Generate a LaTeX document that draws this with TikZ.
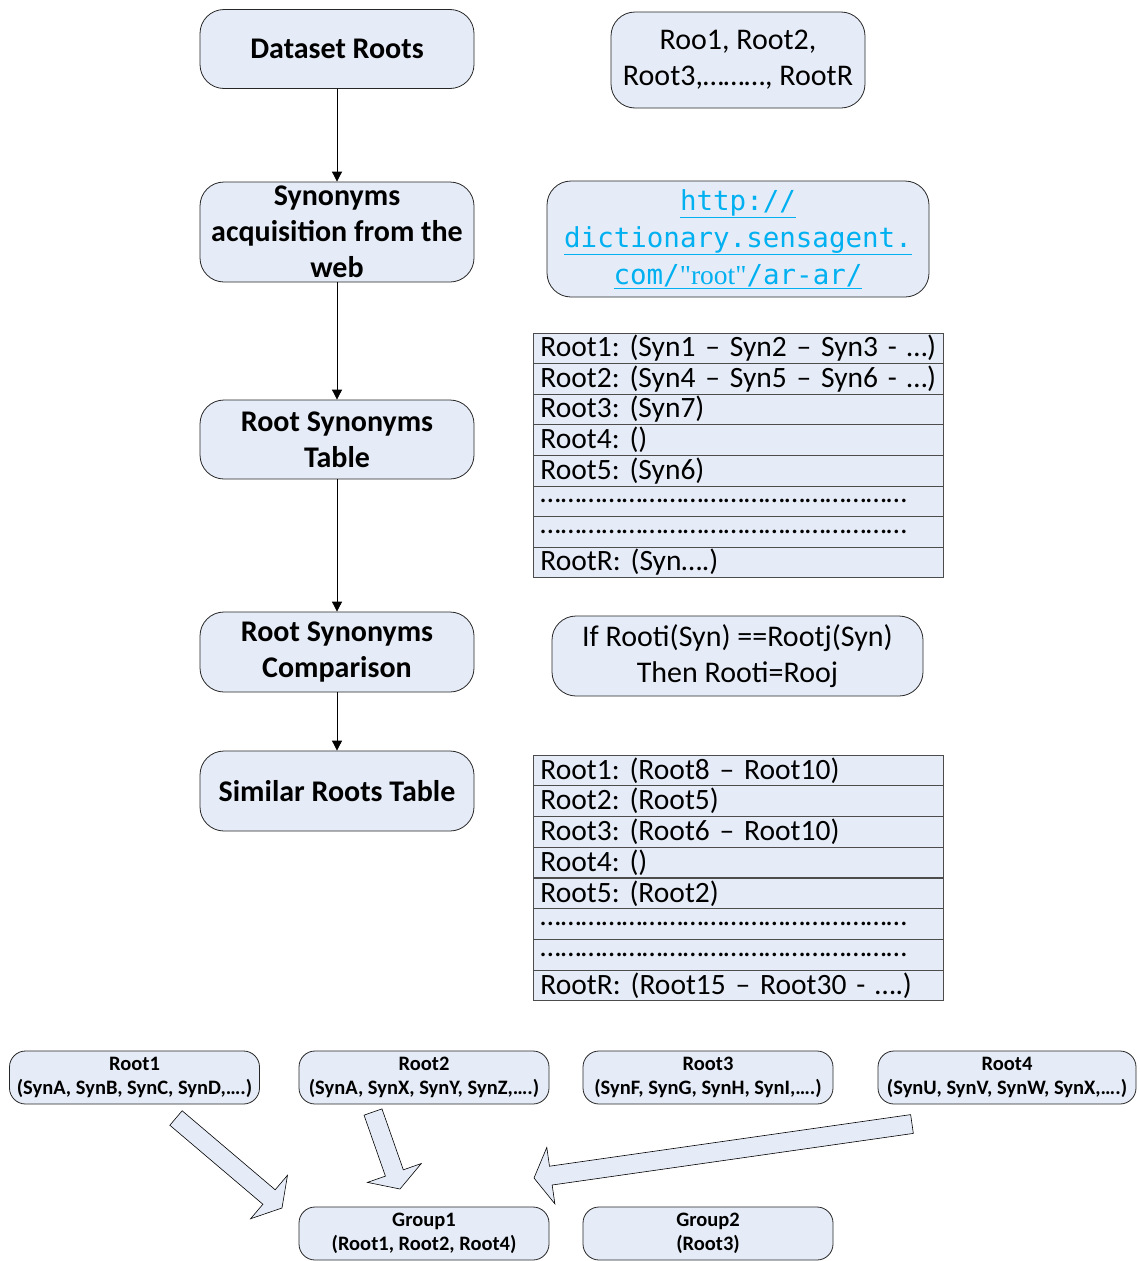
\documentclass[tikz,border=0pt]{standalone}
\usepackage{fontspec}
\setmainfont{Carlito}
\newfontfamily\monofnt{DejaVu Sans Mono}
\newfontfamily\timesfnt{Liberation Serif}
\usetikzlibrary{arrows.meta,calc}
\frenchspacing

\definecolor{boxfill}{RGB}{230,236,247}
\definecolor{linkblue}{RGB}{0,176,240}

\newcommand\dotline{{………}{………}{………}{………}{………}{………}}

\tikzset{
	stepbox/.style={draw=black!85, fill=boxfill, rounded corners=24pt, line width=0.8pt,
		minimum width=274pt, minimum height=79pt, inner sep=0pt, align=center,
		font=\bfseries\fontsize{30}{36}\selectfont},
	notebox/.style={draw=black!85, fill=boxfill, rounded corners=24pt, line width=0.8pt,
		inner sep=0pt, align=center, font=\fontsize{30}{36}\selectfont},
	tabrow/.style={draw=black!70, fill=boxfill, line width=0.9pt, anchor=west,
		minimum height=30.6pt, text width=396pt, inner xsep=7pt, inner ysep=0pt,
		align=left, font=\fontsize{29.5}{30}\selectfont},
	rootbox/.style={draw=black!85, fill=boxfill, rounded corners=16pt, line width=0.8pt,
		minimum width=250pt, minimum height=53pt, inner sep=0pt, align=center,
		font=\bfseries\fontsize{20.5}{24}\selectfont},
	flow/.style={line width=0.8pt, -{Triangle[length=10pt,width=10pt]}},
	fatarrow/.style={draw=black, fill=boxfill, line width=0.6pt, line join=miter}
}

% block arrow from #1 (tail) to #2 (tip)
\newcommand\fatarrow[2]{%
	\coordinate (hb) at ($(#2)!17pt!(#1)$);
	\draw[fatarrow] ($(#1)!9.5pt!-90:(#2)$) -- ($(hb)!9.5pt!-90:(#2)$)
		-- ($(hb)!28.5pt!-90:(#2)$) -- (#2) -- ($(hb)!28.5pt!90:(#2)$)
		-- ($(hb)!9.5pt!90:(#2)$) -- ($(#1)!9.5pt!90:(#2)$) -- cycle;
}

\begin{document}
\begin{tikzpicture}[x=1pt, y=-1pt]
		\useasboundingbox (0,0) rectangle (1140,1261);
		
		% left column
		\node[stepbox] (roots) at (337, 49) {Dataset Roots};
		\node[stepbox, minimum height=100pt] (acq) at (337, 232) {Synonyms\\acquisition from the\\web};
		\node[stepbox] (syntab) at (337, 439.5) {Root Synonyms\\Table};
		\node[stepbox, minimum height=80pt] (cmp) at (337, 652) {Root Synonyms\\Comparison};
		\node[stepbox, minimum height=80pt] (simtab) at (337, 791) {Similar Roots Table};
		
		\draw[flow] (roots) -- (acq);
		\draw[flow] (acq) -- (syntab);
		\draw[flow] (syntab) -- (cmp);
		\draw[flow] (cmp) -- (simtab);
		
		% right column
		\node[notebox, minimum width=254pt, minimum height=96pt] (rootlist) at (738, 60)
			{Roo1, Root2,\\Root3,………, RootR};
		\node[notebox, minimum width=382pt, minimum height=116pt, text=linkblue,
			font=\monofnt\fontsize{27.5}{37}\selectfont] (url) at (738, 239)
			{\underline{http://}\\\underline{dictionary.sensagent.}\\\underline{com/{\timesfnt "root"}/ar-ar/}};
		\node[notebox, minimum width=371pt, minimum height=80pt] (rule) at (737.5, 656)
			{If Rooti(Syn) ==Rootj(Syn)\\Then Rooti=Rooj};
		
		\foreach \txt [count=\i] in {{Root1: (Syn1 – Syn2 – Syn3 - …)}, {Root2: (Syn4 – Syn5 – Syn6 - …)},
			{Root3: (Syn7)}, {Root4: ()}, {Root5: (Syn6)},
			{\dotline}, {\dotline}, {RootR: (Syn….)}}
			\node[tabrow] (syn\i) at (533, {333+30.6*(\i-0.5)}) {\mbox{\txt}};
		
		\foreach \txt [count=\i] in {{Root1: (Root8 – Root10)}, {Root2: (Root5)},
			{Root3: (Root6 – Root10)}, {Root4: ()}, {Root5: (Root2)},
			{\dotline}, {\dotline}, {RootR: (Root15 – Root30 - ….)}}
			\node[tabrow] (sim\i) at (533, {755+30.75*(\i-0.5)}) {\mbox{\txt}};
		
		% groups
		\node[rootbox] (r1) at (134.5, 1077.5) {Root1\\(SynA, SynB, SynC, SynD,….)};
		\node[rootbox] (r2) at (424, 1077.5) {Root2\\(SynA, SynX, SynY, SynZ,….)};
		\node[rootbox] (r3) at (708, 1077.5) {Root3\\(SynF, SynG, SynH, SynI,….)};
		\node[rootbox, minimum width=258pt] (r4) at (1007, 1077.5) {Root4\\(SynU, SynV, SynW, SynX,….)};
		\node[rootbox] (g1) at (424, 1233.5) {Group1\\(Root1, Root2, Root4)};
		\node[rootbox] (g2) at (708, 1233.5) {Group2\\(Root3)};
		
		\coordinate (r1out) at (176, 1118);
		\coordinate (g1in1) at (282, 1208);
		\coordinate (r2out) at (373, 1112);
		\coordinate (g1in2) at (400, 1189);
		\coordinate (r4out) at (912, 1124);
		\coordinate (g1in4) at (534, 1178);
		\fatarrow{r1out}{g1in1}
		\fatarrow{r2out}{g1in2}
		\fatarrow{r4out}{g1in4}
\end{tikzpicture}
\end{document}
